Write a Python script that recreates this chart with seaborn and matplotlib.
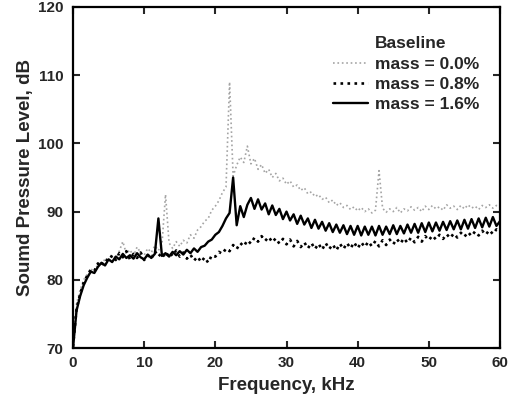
import numpy as np
import pandas as pd
import matplotlib
matplotlib.use("Agg")
import matplotlib.pyplot as plt
import seaborn as sns

# Frequency grid (kHz), 0.5 kHz step
freq_khz = [i * 0.5 for i in range(121)]

# mass = 0.0 % (light grey dotted)
spl_mass_00 = [
    70.5, 76.5, 78.5, 80.0, 80.8, 81.6, 81.2, 82.3, 82.0, 83.1,
    82.6, 83.4, 83.0, 84.2, 85.6, 83.8, 84.4, 83.5, 84.8, 84.0,
    83.6, 84.6, 84.0, 85.0, 84.3, 85.2, 92.5, 85.4, 84.6, 85.6,
    84.9, 85.8, 85.4, 86.6, 86.1, 87.3, 87.8, 88.6, 89.0, 90.2,
    90.8, 91.6, 92.8, 93.6, 109.0, 95.2, 96.8, 98.0, 97.2, 99.6,
    97.0, 97.8, 96.2, 96.9, 95.6, 96.2, 95.0, 95.6, 94.5, 94.9,
    94.0, 94.5, 93.6, 93.9, 93.1, 93.5, 92.6, 92.9, 92.2, 92.5,
    91.8, 92.1, 91.3, 91.7, 90.9, 91.3, 90.6, 90.9, 90.3, 90.7,
    90.1, 90.6, 90.0, 90.4, 89.8, 90.2, 96.0, 90.5, 89.9, 90.4,
    90.0, 90.6, 89.8, 90.4, 90.1, 90.7, 90.2, 90.6, 90.0, 90.8,
    90.3, 90.9, 90.4, 90.7, 90.2, 91.0, 90.5, 90.8, 90.3, 90.9,
    90.4, 91.0, 90.5, 90.8, 90.3, 90.9, 90.6, 91.0, 90.5, 90.9,
    90.6,
]

# mass = 0.8 % (black dotted, lowest curve)
spl_mass_08 = [
    70.2, 75.8, 77.9, 79.6, 80.6, 81.5, 81.3, 82.4, 82.0, 83.0,
    82.8, 83.6, 82.9, 83.9, 83.3, 84.2, 83.0, 83.8, 83.2, 84.0,
    82.9, 83.6, 83.1, 84.2, 83.4, 84.0, 83.2, 84.1, 83.5, 84.3,
    83.4, 84.0, 83.1, 83.7, 82.8, 83.4, 82.6, 83.3, 82.5, 83.6,
    83.4, 84.1, 83.8, 84.6, 84.2, 85.1, 84.5, 85.4, 84.9, 85.8,
    85.3, 86.2, 85.6, 86.4, 85.7, 86.3, 85.5, 86.1, 85.3, 86.0,
    85.2, 85.9, 84.9, 85.7, 84.8, 85.5, 84.6, 85.4, 84.5, 85.3,
    84.4, 85.4, 84.5, 85.2, 84.3, 85.3, 84.5, 85.4, 84.6, 85.5,
    84.6, 85.5, 84.8, 85.6, 84.9, 85.7, 84.9, 85.8, 85.1, 85.9,
    85.2, 86.0, 85.3, 86.1, 85.4, 86.2, 85.5, 86.3, 85.6, 86.4,
    85.8, 86.5, 85.9, 86.6, 86.0, 86.7, 86.1, 86.8, 86.2, 86.9,
    86.3, 87.0, 86.4, 87.1, 86.5, 87.2, 86.6, 87.3, 86.7, 87.4,
    87.0,
]

# mass = 1.6 % (black solid, middle curve)
spl_mass_16 = [
    70.0, 75.5, 77.6, 79.2, 80.3, 81.2, 81.0, 81.9, 82.5, 82.1,
    83.0, 82.6, 83.4, 83.0, 83.8, 83.2, 83.6, 83.1, 83.9, 83.3,
    83.0, 83.7, 83.2, 83.8, 89.0, 83.5, 83.9, 83.4, 84.1, 83.6,
    84.2, 83.7, 84.4, 83.9, 84.6, 84.1, 84.8, 85.0, 85.6, 85.9,
    86.6, 87.0, 87.9, 89.0, 89.8, 95.0, 88.0, 90.8, 89.2, 91.0,
    92.0, 90.4, 91.8, 90.3, 91.2, 89.6, 90.9, 89.5, 90.4, 88.9,
    90.0, 88.7, 89.6, 88.2, 89.4, 88.1, 89.0, 87.6, 88.8, 87.5,
    88.5, 87.2, 88.3, 87.0, 88.1, 86.9, 88.0, 86.7, 87.9, 86.6,
    87.9, 86.5, 87.8, 86.6, 87.8, 86.5, 87.9, 86.6, 87.8, 86.7,
    88.0, 86.7, 87.9, 86.8, 88.1, 86.9, 88.2, 86.9, 88.3, 87.0,
    88.4, 87.1, 88.4, 87.2, 88.5, 87.3, 88.6, 87.4, 88.7, 87.4,
    88.8, 87.5, 88.9, 87.6, 89.0, 87.7, 89.1, 87.8, 89.2, 87.9,
    88.6,
]

series_labels = ["mass = 0.0%", "mass = 0.8%", "mass = 1.6%"]
x_ticks = [0, 10, 20, 30, 40, 50, 60]
y_ticks = [70, 80, 90, 100, 110, 120]

sns.set_theme(style="ticks")
plt.rcParams["font.family"] = ["Liberation Sans", "DejaVu Sans"]
plt.rcParams["font.weight"] = "bold"

df = pd.DataFrame({
    "freq": freq_khz * 3,
    "spl": spl_mass_00 + spl_mass_08 + spl_mass_16,
    "series": [series_labels[0]] * len(freq_khz)
              + [series_labels[1]] * len(freq_khz)
              + [series_labels[2]] * len(freq_khz),
})

fig = plt.figure(figsize=(5.16, 4.08), dpi=100)
ax = fig.add_axes([73 / 516, 60 / 408, 427 / 516, 341 / 408])

styles = {
    series_labels[0]: dict(color="#a4a4a4", linestyle=":", linewidth=1.2),
    series_labels[1]: dict(color="black", linestyle=":", linewidth=1.9),
    series_labels[2]: dict(color="black", linestyle="-", linewidth=1.7),
}
for lab in series_labels:
    sub = df[df["series"] == lab]
    sns.lineplot(data=sub, x="freq", y="spl", ax=ax, label=lab, **styles[lab])

ax.set_xlim(0, 60)
ax.set_ylim(70, 120)
ax.set_xticks(x_ticks)
ax.set_yticks(y_ticks)
ax.set_xticklabels([str(t) for t in x_ticks], fontweight="bold", fontsize=11)
ax.set_yticklabels([str(t) for t in y_ticks], fontweight="bold", fontsize=11)
ax.tick_params(direction="in", top=True, right=True, length=5, width=1.5)
ax.tick_params(axis="y", pad=7)
ax.tick_params(axis="x", pad=6)
for s in ax.spines.values():
    s.set_linewidth(1.6)
    s.set_color("black")

ax.set_xlabel("Frequency, kHz", fontsize=13.5, fontweight="bold", labelpad=5)
ax.set_ylabel("Soumd Pressure Level, dB", fontsize=13.5, fontweight="bold", labelpad=3)

leg = ax.legend(loc="upper left", bbox_to_anchor=(333 / 516, 1 - 57 / 408),
                bbox_transform=fig.transFigure, frameon=False,
                prop={"size": 12.5, "weight": "bold"},
                handlelength=2.0, handletextpad=0.4, labelspacing=0.27,
                borderpad=0, borderaxespad=0)
fig.text(375 / 516, 1 - 43 / 408, "Baseline", fontsize=12.5, fontweight="bold",
         ha="left", va="center")

fig.savefig("out.png", dpi=100)
